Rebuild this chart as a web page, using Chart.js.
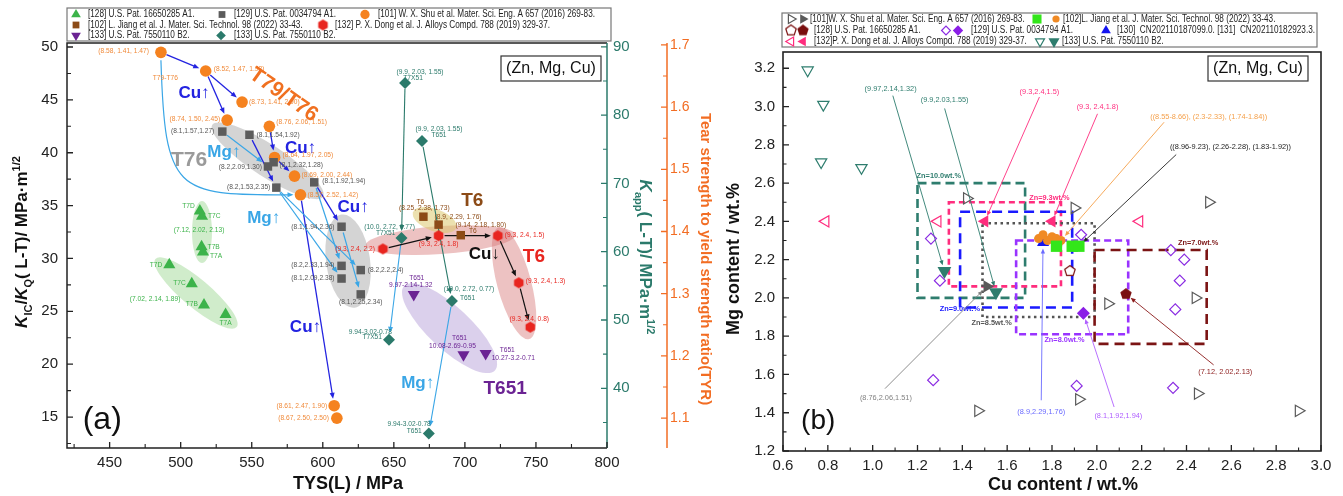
<!DOCTYPE html>
<html>
<head>
<meta charset="utf-8">
<title>TYS vs toughness / Cu-Mg map</title>
<script src="https://cdn.jsdelivr.net/npm/chart.js@4.4.1/dist/chart.umd.min.js"></script>
<style>
  body { margin: 0; background: #fff; }
  #wrap { position: relative; width: 1343px; height: 496px; overflow: hidden; background: #fff; }
  #chartA { position: absolute; left: 0; top: 0; }
  #chartB { position: absolute; left: 718px; top: 0; }
</style>
</head>
<body>
<div id="wrap">
  <canvas id="chartA" width="718" height="496"></canvas>
  <canvas id="chartB" width="625" height="496"></canvas>
</div>
<script>
const FONT = '"Liberation Sans", Arial, Helvetica, sans-serif';
Chart.defaults.font.family = FONT;
Chart.defaults.color = '#222';

// ---------- panel (a) data ----------
const tysTicks = [450, 500, 550, 600, 650, 700, 750, 800];
const kicTicks = [15, 20, 25, 30, 35, 40, 45, 50];
const kappTicks = [40, 50, 60, 70, 80, 90];
const tyrTicks = [1.1, 1.2, 1.3, 1.4, 1.5, 1.6, 1.7];

// [128] U.S. Pat. 16650285 A1.
const tys128 = [513.5, 515.0, 514.7, 515.7, 492.0, 507.8, 516.4, 531.6];
const kic128 = [34.5, 34.0, 31.1, 30.6, 29.4, 27.6, 25.6, 24.7];
const temper128 = ['T7D', 'T7C', 'T7B', 'T7A', 'T7D', 'T7C', 'T7B', 'T7A'];

// [129] U.S. Pat. 0034794 A1.
const tys129 = [529.3, 548.4, 561.4, 565.4, 567.3, 594.0, 613.2, 613.2, 613.2, 626.7, 626.7];
const kic129 = [42.0, 41.7, 38.7, 39.1, 36.7, 37.2, 33.0, 29.3, 28.1, 28.9, 26.6];
const comp129 = ['(8.1,1.57,1.27)', '(8.1,1.54,1.92)', '(8.2,2.09,1.30)', '(8.1,2.32,1.28)', '(8.2,1.53,2.35)',
  '(8.1,1.92,1.94)', '(8.1,1.94,2.36)', '(8.2,2.33,1.94)', '(8.1,2.09,2.38)', '(8.2,2.2,2.4)', '(8.1,2.25,2.34)'];

// [101] W. X. Shu et al. (TYR axis)
const tys101 = [486.1, 517.6, 543.2, 532.7, 562.4, 566.1, 580.1, 584.3, 608.0, 609.9];
const tyr101 = [1.688, 1.658, 1.608, 1.579, 1.569, 1.519, 1.489, 1.459, 1.120, 1.100];
const comp101 = ['(8.58, 1.41, 1.47)', '(8.52, 1.47, 1.92)', '(8.73, 1.41, 2.90)', '(8.74, 1.50, 2.45)', '(8.76, 2.06, 1.51)',
  '(8.64, 1.97, 2.05)', '(8.69, 2.00, 2.44)', '(8.57, 2.52, 1.42)', '(8.61, 2.47, 1.90)', '(8.67, 2.50, 2.50)'];

// [102] L. Jiang et al.
const tys102 = [670.8, 681.5, 697.1];
const kic102 = [33.95, 33.2, 32.2];
const comp102 = ['(8.25, 2.38, 1.73)', '(8.9, 2.29, 1.76)', '(9.14, 2.18, 1.80)'];
const temper102 = ['T6', '', 'T6'];

// [132] P. X. Dong et al.
const tys132 = [642.3, 681.5, 723.2, 737.9, 746.0];
const kic132 = [30.9, 32.15, 32.15, 27.7, 23.5];
const comp132 = ['(9.3, 2.4, 2.2)', '(9.3, 2.4, 1.8)', '(9.3, 2.4, 1.5)', '(9.3, 2.4, 1.3)', '(9.3, 2.4, 0.8)'];

// [133] U.S. Pat. 7550110 B2. (K_IC)
const tys133 = [664.0, 699.0, 714.6];
const kic133 = [26.6, 20.9, 21.0];
const comp133 = ['9.97-2.14-1.32', '10.08-2.69-0.95', '10.27-3.2-0.71'];

// [133] U.S. Pat. 7550110 B2. (K_app axis)
const tys133k = [657.9, 669.8, 655.4, 690.9, 646.6, 674.6];
const kapp133k = [84.7, 76.2, 62.0, 52.8, 47.1, 33.4];
const comp133k = ['(9.9, 2.03, 1.55)', '(9.9, 2.03, 1.55)', '(10.0, 2.72, 0.77)', '(10.0, 2.72, 0.77)', '9.94-3.02-0.78', '9.94-3.02-0.78'];
const temper133k = ['T7X51', 'T651', 'T7X51', 'T651', 'T7X51', 'T651'];

// ---------- panel (b) data ----------
const cuTicks = [0.6, 0.8, 1.0, 1.2, 1.4, 1.6, 1.8, 2.0, 2.2, 2.4, 2.6, 2.8, 3.0];
const mgTicks = [1.2, 1.4, 1.6, 1.8, 2.0, 2.2, 2.4, 2.6, 2.8, 3.0, 3.2];

const cu101o = [1.42, 1.90, 2.50, 2.05, 2.44, 1.92, 2.45, 2.90, 1.47];
const mg101o = [2.52, 2.47, 2.50, 1.97, 2.00, 1.47, 1.50, 1.41, 1.41];
const cu101f = [1.51];
const mg101f = [2.06];
const cu102s = [1.82, 1.89, 1.92];
const mg102s = [2.27, 2.27, 2.27];
const cu102c = [1.74, 1.76, 1.78, 1.80, 1.82, 1.84];
const mg102c = [2.31, 2.33, 2.30, 2.32, 2.31, 2.30];
const cu128o = [1.88];
const mg128o = [2.14];
const cu128f = [2.13];
const mg128f = [2.02];
const cu129o = [1.26, 1.30, 1.93, 2.33, 2.39, 2.37, 2.35, 1.91, 2.34, 1.27];
const mg129o = [2.31, 2.09, 2.33, 2.25, 2.20, 2.09, 1.94, 1.54, 1.53, 1.57];
const cu129f = [1.94];
const mg129f = [1.92];
const cu130 = [1.76];
const mg130 = [2.29];
const cu132o = [0.79, 1.29, 2.19];
const mg132o = [2.40, 2.40, 2.40];
const cu132f = [1.5, 1.8];
const mg132f = [2.4, 2.4];
const cu133o = [0.71, 0.78, 0.77, 0.95];
const mg133o = [3.19, 3.01, 2.71, 2.68];
const cu133f = [1.32, 1.55];
const mg133f = [2.14, 2.03];

// Zn composition windows
const znLabels = ['Zn=10.0wt.%', 'Zn=9.3wt.%', 'Zn=9.0wt.%', 'Zn=8.5wt.%', 'Zn=8.0wt.%', 'Zn=7.0wt.%'];
const znCuLo = [1.20, 1.34, 1.39, 1.49, 1.64, 1.99];
const znCuHi = [1.68, 1.84, 1.89, 1.99, 2.14, 2.49];
const znMgLo = [2.00, 2.06, 1.95, 1.90, 1.81, 1.76];
const znMgHi = [2.60, 2.50, 2.45, 2.39, 2.30, 2.25];

// ---------- colours ----------
const GREEN = '#3cb34a', GREY = '#5c5c5c', ORANGE = '#f5821f', BROWN = '#8c4b17',
  RED = '#e8251f', PURPLE = '#6b2393', TEAL = '#2b7a6b', AX_ORANGE = '#f26d23',
  BLUE = '#2323e0', LBLUE = '#3aa6e6';

// ---------- helpers ----------
function xy(xs, ys) { return xs.map((x, i) => ({ x: x, y: ys[i] })); }

function polyMarker(n, r, fill, stroke, lw) {
  const s = Math.ceil(2 * r + 2 * lw + 2);
  const c = document.createElement('canvas');
  c.width = s; c.height = s;
  const g = c.getContext('2d');
  g.beginPath();
  for (let k = 0; k < n; k++) {
    const a = -Math.PI / 2 + k * 2 * Math.PI / n;
    const x = s / 2 + r * Math.cos(a), y = s / 2 + r * Math.sin(a);
    if (k) g.lineTo(x, y); else g.moveTo(x, y);
  }
  g.closePath();
  if (fill) { g.fillStyle = fill; g.fill(); }
  if (stroke) { g.strokeStyle = stroke; g.lineWidth = lw; g.stroke(); }
  return c;
}

function txt(ctx, s, x, y, o) {
  ctx.save();
  ctx.font = (o.italic ? 'italic ' : '') + (o.bold ? 'bold ' : '') + (o.size || 8) + 'px ' + FONT;
  ctx.fillStyle = o.color || '#222';
  ctx.textAlign = o.align || 'center';
  ctx.textBaseline = 'middle';
  ctx.translate(x, y);
  if (o.rot) ctx.rotate(o.rot * Math.PI / 180);
  if (o.hs) ctx.scale(o.hs, 1);
  ctx.fillText(s, 0, 0);
  ctx.restore();
}

function richTitle(ctx, parts, cx, cy, rotDeg, size, color) {
  ctx.save();
  ctx.translate(cx, cy);
  ctx.rotate(rotDeg * Math.PI / 180);
  ctx.fillStyle = color;
  ctx.textBaseline = 'alphabetic';
  ctx.textAlign = 'left';
  const fonts = parts.map(p => (p.i ? 'italic ' : '') + 'bold ' + ((p.sub || p.sup) ? Math.round(size * 0.62) : size) + 'px ' + FONT);
  const widths = parts.map((p, k) => { ctx.font = fonts[k]; return ctx.measureText(p.t).width; });
  let x = -widths.reduce((a, b) => a + b, 0) / 2;
  const base = size * 0.36;
  parts.forEach((p, k) => {
    ctx.font = fonts[k];
    const dy = p.sub ? size * 0.3 : (p.sup ? -size * 0.42 : 0);
    ctx.fillText(p.t, x, base + dy);
    x += widths[k];
  });
  ctx.restore();
}

function arrowHead(ctx, x, y, ux, uy, h) {
  ctx.beginPath();
  ctx.moveTo(x, y);
  ctx.lineTo(x - ux * h - uy * h * 0.42, y - uy * h + ux * h * 0.42);
  ctx.lineTo(x - ux * h + uy * h * 0.42, y - uy * h - ux * h * 0.42);
  ctx.closePath();
  ctx.fill();
}

function arrowLine(ctx, p, q, color, lw, g0, g1, head) {
  const dx = q.x - p.x, dy = q.y - p.y, L = Math.hypot(dx, dy);
  if (L < 1) return;
  const ux = dx / L, uy = dy / L;
  const x1 = p.x + ux * g0, y1 = p.y + uy * g0;
  const x2 = q.x - ux * g1, y2 = q.y - uy * g1;
  ctx.save();
  ctx.strokeStyle = color; ctx.fillStyle = color; ctx.lineWidth = lw;
  ctx.beginPath(); ctx.moveTo(x1, y1); ctx.lineTo(x2 - ux * head * 0.6, y2 - uy * head * 0.6); ctx.stroke();
  arrowHead(ctx, x2, y2, ux, uy, head);
  ctx.restore();
}

function tickMarks(ctx, scale, values, len, side, color, lw) {
  ctx.save();
  ctx.strokeStyle = color; ctx.lineWidth = lw;
  ctx.beginPath();
  values.forEach(v => {
    if (v < scale.min - 1e-9 || v > scale.max + 1e-9) return;
    const p = scale.getPixelForValue(v);
    if (side === 'bottom') { ctx.moveTo(p, scale.top); ctx.lineTo(p, scale.top - len); }
    else if (side === 'left') { ctx.moveTo(scale.right, p); ctx.lineTo(scale.right + len, p); }
    else { ctx.moveTo(scale.left, p); ctx.lineTo(scale.left - len, p); }
  });
  ctx.stroke();
  ctx.restore();
}

function minorOf(ticks) {
  const st = ticks[1] - ticks[0], out = [];
  for (let i = 0; i <= ticks.length; i++) out.push(+(ticks[0] - st / 2 + i * st).toFixed(4));
  return out;
}

function linAxis(pos, min, max, vals, fit, tickOpts, extra) {
  return Object.assign({
    type: 'linear', position: pos, min: min, max: max,
    afterBuildTicks: s => { s.ticks = vals.map(v => ({ value: v })); },
    afterFit: s => { if (pos === 'bottom') s.height = fit; else s.width = fit; },
    grid: { display: false, drawTicks: false, tickLength: 0 },
    border: { display: false },
    ticks: Object.assign({ autoSkip: false, maxRotation: 0, minRotation: 0, font: { size: 15 }, color: '#222', padding: 6 }, tickOpts)
  }, extra || {});
}

function elPos(chart, d, i) {
  const e = chart.getDatasetMeta(d).data[i];
  return { x: e.x, y: e.y };
}

function legendMark(ctx, d, x, y, k) {
  ctx.save();
  ctx.fillStyle = d.backgroundColor;
  ctx.strokeStyle = d.borderColor;
  ctx.lineWidth = d.borderWidth || 0;
  Chart.helpers.drawPoint(ctx, {
    pointStyle: d.pointStyle, rotation: d.pointRotation || 0,
    radius: d.pointRadius * k, borderWidth: d.borderWidth || 0
  }, x, y);
  ctx.restore();
}

function drawLegend(chart, box, rows, items) {
  const ctx = chart.ctx;
  ctx.save();
  ctx.strokeStyle = '#777'; ctx.lineWidth = 1.2;
  ctx.strokeRect(box[0], box[1], box[2] - box[0], box[3] - box[1]);
  items.forEach(it => {
    const y = rows[it[0]];
    it[1].forEach(m => legendMark(ctx, chart.data.datasets[m[0]], m[1], y, 0.8));
    txt(ctx, it[3], it[2], y, { size: 10, align: 'left', hs: 0.82, color: '#222' });
  });
  ctx.restore();
}

// ---------- panel (a) annotations ----------
const ellipsesA = [
  { x: 561.2, y: 39.24, rx: 66, ry: 16, a: 33, c: 'rgba(160,160,160,0.45)' },
  { x: 617.8, y: 29.75, rx: 22, ry: 47, a: -8, c: 'rgba(160,160,160,0.45)' },
  { x: 515.0, y: 32.5, rx: 10, ry: 31, a: 0, c: 'rgba(170,220,160,0.55)' },
  { x: 510.8, y: 26.73, rx: 53, ry: 14, a: 40, c: 'rgba(170,220,160,0.55)' },
  { x: 682.9, y: 31.74, rx: 75, ry: 14, a: -4, c: 'rgba(215,120,120,0.45)' },
  { x: 734.6, y: 27.67, rx: 58, ry: 17, a: 75, c: 'rgba(215,120,120,0.45)' },
  { x: 678.7, y: 33.63, rx: 23, ry: 11, a: 20, c: 'rgba(220,200,110,0.55)' },
  { x: 689.2, y: 23.41, rx: 62, ry: 21, a: 43, c: 'rgba(190,170,220,0.55)' }
];

// [fromDataset, fromIndex, toDataset, toIndex, colour, width]
const arrowsA = [
  [2, 0, 2, 1, BLUE, 1.3], [2, 1, 2, 2, BLUE, 1.3], [2, 1, 2, 3, BLUE, 1.3],
  [2, 4, 2, 5, BLUE, 1.3], [2, 5, 2, 6, BLUE, 1.3], [1, 1, 1, 4, BLUE, 1.3],
  [1, 5, 1, 6, BLUE, 1.3], [2, 7, 2, 8, BLUE, 1.3],
  [1, 0, 1, 2, LBLUE, 1.2], [1, 4, 1, 8, LBLUE, 1.2], [1, 4, 1, 9, LBLUE, 1.2],
  [1, 5, 1, 7, LBLUE, 1.2], [1, 6, 1, 10, LBLUE, 1.2],
  [6, 0, 6, 2, TEAL, 1.1], [6, 1, 6, 3, TEAL, 1.1],
  [6, 2, 6, 4, LBLUE, 1.1], [6, 3, 6, 5, LBLUE, 1.1],
  [4, 0, 4, 1, '#111', 1.2], [4, 1, 4, 2, '#111', 1.2], [4, 2, 4, 3, '#111', 1.2], [4, 3, 4, 4, '#111', 1.2]
];

// label offsets (px) per point: [dx, dy, align]
const offs129 = [[-8, -1, 'right'], [7, 0, 'left'], [-6, 1, 'right'], [6, 3, 'left'], [-6, -1, 'right'], [8, -1, 'left'],
  [-7, 0, 'right'], [-7, -1, 'right'], [-7, 0, 'right'], [7, 0, 'left'], [0, 8, 'center']];
const offs101 = [[-12, -1, 'right'], [8, -2, 'left'], [7, 0, 'left'], [-7, -1, 'right'], [7, -4, 'left'], [8, -2, 'left'],
  [7, -1, 'left'], [7, 0, 'left'], [-7, 0, 'right'], [-8, 0, 'right']];
const offs128 = [[-5, -5, 'right'], [6, 0, 'left'], [6, 0, 'left'], [7, 4, 'left'], [-7, 0, 'right'], [-6, -1, 'right'],
  [-6, -1, 'right'], [0, 9, 'center']];
const offs102 = [[1, -9, 'center'], [-4, -8, 'left'], [20, -10, 'center']];
const offs102t = [[-3, -15, 'center'], null, [12, -4, 'center']];
const offs132 = [[-8, 0, 'right'], [0, 8, 'center'], [7, -1, 'left'], [7, -2, 'left'], [-1, -8, 'center']];
const offs133 = [[-3, -9, 'center'], [-11, -9, 'center'], [6, 4, 'left']];
const offs133t = [[3, -16, 'center'], [-4, -17, 'center'], [14, -4, 'left']];
const offs133k = [[15, -11, 'center'], [17, -12, 'center'], [-12, -11, 'center'], [17, -12, 'center'], [3, -8, 'right'], [2, -9, 'right']];
const offs133kt = [[8, -5, 'center'], [17, -6, 'center'], [-6, -5, 'right'], [8, -3, 'left'], [-7, -3, 'right'], [-7, -2, 'right']];

const notesA = [
  { t: 'T79/T76', x: 572.4, y: 45.46, c: '#f07020', s: 21, b: true, r: 35 },
  { t: 'T79-T76', x: 489.2, y: 47.07, c: '#f08a3a', s: 7 },
  { t: 'T76', x: 505.9, y: 39.3, c: '#9a9a9a', s: 21, b: true },
  { t: 'Cu↑', x: 509.4, y: 45.65, c: BLUE, s: 17, b: true },
  { t: 'Mg↑', x: 530.4, y: 40.07, c: LBLUE, s: 17, b: true },
  { t: 'Cu↑', x: 584.3, y: 40.44, c: BLUE, s: 17, b: true },
  { t: 'Mg↑', x: 558.4, y: 33.82, c: LBLUE, s: 17, b: true },
  { t: 'Cu↑', x: 621.3, y: 34.86, c: BLUE, s: 17, b: true },
  { t: 'Cu↑', x: 587.8, y: 23.5, c: BLUE, s: 17, b: true },
  { t: 'T6', x: 705.2, y: 35.5, c: BROWN, s: 19, b: true },
  { t: 'Cu↓', x: 713.6, y: 30.4, c: '#111', s: 17, b: true },
  { t: 'T6', x: 748.6, y: 30.2, c: RED, s: 19, b: true },
  { t: 'Mg↑', x: 666.8, y: 18.2, c: LBLUE, s: 17, b: true },
  { t: 'T651', x: 728.3, y: 17.7, c: PURPLE, s: 19, b: true },
  { t: '(7.12, 2.02, 2.13)', x: 512.9, y: 32.7, c: GREEN, s: 7 },
  { t: '(7.02, 2.14, 1.89)', x: 482.0, y: 26.2, c: GREEN, s: 7 },
  { t: '(a)', x: 444.8, y: 14.7, c: '#111', s: 32 }
];

function pointText(chart, d, texts, offs, color) {
  const els = chart.getDatasetMeta(d).data;
  texts.forEach((t, i) => {
    const o = offs[i];
    if (!t || !o) return;
    txt(chart.ctx, t, els[i].x + o[0], els[i].y + o[1], { size: 7, color: color, align: o[2], hs: 0.95 });
  });
}

const panelA = {
  id: 'panelA',
  beforeDatasetsDraw(chart) {
    const ctx = chart.ctx, sx = chart.scales.x, sy = chart.scales.y, ca = chart.chartArea;
    ctx.save();
    ctx.beginPath(); ctx.rect(ca.left, ca.top, ca.width, ca.height); ctx.clip();
    ellipsesA.forEach(e => {
      ctx.save();
      ctx.translate(sx.getPixelForValue(e.x), sy.getPixelForValue(e.y));
      ctx.rotate(e.a * Math.PI / 180);
      ctx.beginPath(); ctx.ellipse(0, 0, e.rx, e.ry, 0, 0, 2 * Math.PI);
      ctx.fillStyle = e.c; ctx.fill();
      ctx.restore();
    });
    // curved Mg arrow from the T79 point down to the T76 point
    const p = elPos(chart, 2, 0), q = elPos(chart, 2, 7);
    ctx.strokeStyle = LBLUE; ctx.fillStyle = LBLUE; ctx.lineWidth = 1.2;
    ctx.beginPath();
    ctx.moveTo(p.x, p.y + 8);
    ctx.bezierCurveTo(p.x + 4, q.y - 3, p.x + 14, q.y + 1, q.x - 12, q.y);
    ctx.stroke();
    arrowHead(ctx, q.x - 7, q.y, 1, 0, 6);
    arrowsA.forEach(a => {
      arrowLine(ctx, elPos(chart, a[0], a[1]), elPos(chart, a[2], a[3]), a[4], a[5], 6, 7, 6);
    });
    ctx.restore();
  },
  afterDatasetsDraw(chart) {
    const ctx = chart.ctx, sx = chart.scales.x, sy = chart.scales.y;
    pointText(chart, 0, temper128, offs128, GREEN);
    pointText(chart, 1, comp129, offs129, '#555');
    pointText(chart, 2, comp101, offs101, '#f08a3a');
    pointText(chart, 3, comp102, offs102, BROWN);
    pointText(chart, 3, temper102, offs102t, BROWN);
    pointText(chart, 4, comp132, offs132, RED);
    pointText(chart, 5, comp133, offs133, PURPLE);
    pointText(chart, 5, ['T651', 'T651', 'T651'], offs133t, PURPLE);
    pointText(chart, 6, comp133k, offs133k, TEAL);
    pointText(chart, 6, temper133k, offs133kt, TEAL);
    notesA.forEach(n => txt(ctx, n.t, sx.getPixelForValue(n.x), sy.getPixelForValue(n.y),
      { size: n.s, color: n.c, bold: n.b, rot: n.r || 0, hs: n.s < 10 ? 0.95 : 0 }));
  },
  afterDraw(chart) {
    const ctx = chart.ctx, ca = chart.chartArea, S = chart.scales;
    // frame
    ctx.save();
    ctx.lineWidth = 1.5; ctx.strokeStyle = '#222';
    ctx.beginPath();
    ctx.moveTo(ca.right, ca.top); ctx.lineTo(ca.left, ca.top); ctx.lineTo(ca.left, ca.bottom); ctx.lineTo(ca.right, ca.bottom);
    ctx.stroke();
    ctx.strokeStyle = TEAL;
    ctx.beginPath(); ctx.moveTo(ca.right, ca.top); ctx.lineTo(ca.right, ca.bottom); ctx.stroke();
    ctx.strokeStyle = AX_ORANGE;
    ctx.beginPath(); ctx.moveTo(S.yt.left, ca.top); ctx.lineTo(S.yt.left, ca.bottom); ctx.stroke();
    ctx.restore();
    tickMarks(ctx, S.x, tysTicks, 6, 'bottom', '#222', 1.3);
    tickMarks(ctx, S.x, minorOf(tysTicks), 4, 'bottom', '#222', 1.1);
    tickMarks(ctx, S.y, kicTicks, 6, 'left', '#222', 1.3);
    tickMarks(ctx, S.y, minorOf(kicTicks), 4, 'left', '#222', 1.1);
    tickMarks(ctx, S.yk, kappTicks, 6, 'right', TEAL, 1.3);
    tickMarks(ctx, S.yk, minorOf(kappTicks), 4, 'right', TEAL, 1.1);
    tickMarks(ctx, S.yt, tyrTicks, 6, 'right', AX_ORANGE, 1.3);
    tickMarks(ctx, S.yt, minorOf(tyrTicks), 4, 'right', AX_ORANGE, 1.1);
    // axis titles
    richTitle(ctx, [{ t: 'K', i: true }, { t: 'IC', sub: true }, { t: '/' }, { t: 'K', i: true }, { t: 'Q', sub: true },
      { t: '( L-T)/ MPa·m' }, { t: '1/2', sup: true }], 21, 242, -90, 17, '#111');
    richTitle(ctx, [{ t: 'K', i: true }, { t: 'app', sub: true }, { t: '( L-T)/ MPa·m' }, { t: '1/2', sup: true }],
      646, 257, 90, 17, TEAL);
    txt(ctx, 'Tear strength to yield strength ratio(TYR)', 705, 259, { size: 15, bold: true, color: AX_ORANGE, rot: 90 });
    txt(ctx, 'TYS(L) / MPa', 348, 484, { size: 18, bold: true, color: '#111' });
    // composition box
    ctx.save();
    ctx.strokeStyle = '#333'; ctx.lineWidth = 1.2;
    ctx.strokeRect(ca.right - 106, ca.top + 13, 100, 25);
    ctx.restore();
    txt(ctx, '(Zn, Mg, Cu)', ca.right - 56, ca.top + 26, { size: 16, color: '#111' });
    drawLegend(chart, [67, 8, 611, 41], [14.5, 25, 35.5], [
      [0, [[0, 76]], 88, '[128] U.S. Pat. 16650285 A1.'],
      [0, [[1, 222]], 234, '[129] U.S. Pat. 0034794 A1.'],
      [0, [[2, 365]], 378, '[101] W. X. Shu et al. Mater. Sci. Eng. A 657 (2016) 269-83.'],
      [1, [[3, 76]], 88, '[102] L. Jiang et al. J. Mater. Sci. Technol. 98 (2022) 33-43.'],
      [1, [[4, 323]], 335, '[132] P. X. Dong et al. J. Alloys Compd. 788 (2019) 329-37.'],
      [2, [[5, 76]], 88, '[133] U.S. Pat. 7550110 B2.'],
      [2, [[6, 221]], 234, '[133] U.S. Pat. 7550110 B2.']
    ]);
  }
};

const hexRed = polyMarker(6, 5.5, RED, null, 0);

new Chart(document.getElementById('chartA'), {
  type: 'scatter',
  data: {
    datasets: [
      { label: '[128] U.S. Pat. 16650285 A1.', data: xy(tys128, kic128), yAxisID: 'y',
        pointStyle: 'triangle', pointRadius: 7, backgroundColor: GREEN, borderColor: GREEN, borderWidth: 0 },
      { label: '[129] U.S. Pat. 0034794 A1.', data: xy(tys129, kic129), yAxisID: 'y',
        pointStyle: 'rect', pointRadius: 6, backgroundColor: GREY, borderColor: GREY, borderWidth: 0 },
      { label: '[101] W. X. Shu et al.', data: xy(tys101, tyr101), yAxisID: 'yt',
        pointStyle: 'circle', pointRadius: 5.8, backgroundColor: ORANGE, borderColor: ORANGE, borderWidth: 0 },
      { label: '[102] L. Jiang et al.', data: xy(tys102, kic102), yAxisID: 'y',
        pointStyle: 'rect', pointRadius: 6, backgroundColor: BROWN, borderColor: BROWN, borderWidth: 0 },
      { label: '[132] P. X. Dong et al.', data: xy(tys132, kic132), yAxisID: 'y',
        pointStyle: hexRed, pointRadius: 6, backgroundColor: RED, borderColor: RED, borderWidth: 0 },
      { label: '[133] U.S. Pat. 7550110 B2.', data: xy(tys133, kic133), yAxisID: 'y',
        pointStyle: 'triangle', pointRotation: 180, pointRadius: 7, backgroundColor: PURPLE, borderColor: PURPLE, borderWidth: 0 },
      { label: '[133] U.S. Pat. 7550110 B2. (Kapp)', data: xy(tys133k, kapp133k), yAxisID: 'yk',
        pointStyle: 'rectRot', pointRadius: 6, backgroundColor: TEAL, borderColor: TEAL, borderWidth: 0 }
    ]
  },
  options: {
    responsive: false, animation: false, events: [],
    layout: { padding: { left: 0, right: 1, top: 43, bottom: 0 } },
    plugins: { legend: { display: false }, tooltip: { enabled: false } },
    scales: {
      x: linAxis('bottom', 420, 800, tysTicks, 48, { padding: 6, callback: v => String(v) }),
      y: linAxis('left', 12.07, 50.38, kicTicks, 67, { padding: 9, callback: v => String(v) }),
      yk: linAxis('right', 31.26, 90.56, kappTicks, 60, { padding: 6, color: TEAL, callback: v => String(v) }, { weight: 0 }),
      yt: linAxis('right', 1.052, 1.703, tyrTicks, 50, { padding: 3, color: AX_ORANGE, font: { size: 14 }, callback: v => v.toFixed(1) }, { weight: 1 })
    }
  },
  plugins: [panelA]
});

// ---------- panel (b) annotations ----------
const znStyle = [
  { c: '#2e7d6e', dash: [9, 5], lab: [1.196, 2.637, 'left'] },
  { c: '#ff2d7e', dash: [6, 4], lab: [1.788, 2.525, 'center'] },
  { c: '#1a1aff', dash: [10, 6], lab: [1.299, 1.942, 'left'] },
  { c: '#555555', dash: [2.5, 3.5], lab: [1.441, 1.869, 'left'] },
  { c: '#9933ff', dash: [7, 4], lab: [1.766, 1.780, 'left'] },
  { c: '#7b1414', dash: [10, 6], lab: [2.362, 2.288, 'left'] }
];

// label text, label anchor, line start, target [dataset, index]
const notesB = [
  { t: '(9.97,2.14,1.32)', at: [1.08, 3.094], from: [1.09, 3.057], to: [11, 0], c: '#2e7d6e' },
  { t: '(9.9,2.03,1.55)', at: [1.321, 3.037], from: [1.321, 2.99], to: [11, 1], c: '#2e7d6e' },
  { t: '(9.3,2.4,1.5)', at: [1.744, 3.078], from: [1.744, 3.05], to: [9, 0], c: '#ff2d7e' },
  { t: '(9.3, 2.4,1.8)', at: [2.003, 3.0], from: [2.003, 2.962], to: [9, 1], c: '#ff2d7e' },
  { t: '((8.55-8.66), (2.3-2.33), (1.74-1.84))', at: [2.499, 2.949], from: [2.30, 2.918], to: [6, 5], c: '#f5a04a' },
  { t: '((8.96-9.23), (2.26-2.28), (1.83-1.92))', at: [2.596, 2.788], from: [2.354, 2.749], to: [5, 2], c: '#222' },
  { t: '(8.76,2.06,1.51)', at: [1.059, 1.479], from: [1.055, 1.526], to: [8, 0], c: '#808080' },
  { t: '(8.9,2.29,1.76)', at: [1.752, 1.404], from: [1.752, 1.465], to: [7, 0], c: '#6a6aff' },
  { t: '(8.1,1.92,1.94)', at: [2.096, 1.386], from: [2.077, 1.43], to: [10, 0], c: '#b060ff' },
  { t: '(7.12, 2.02,2.13)', at: [2.573, 1.613], from: [2.521, 1.65], to: [12, 0], c: '#8b1a1a' }
];

const panelB = {
  id: 'panelB',
  beforeDatasetsDraw(chart) {
    const ctx = chart.ctx, sx = chart.scales.x, sy = chart.scales.y;
    znLabels.forEach((lab, i) => {
      const st = znStyle[i];
      const x0 = sx.getPixelForValue(znCuLo[i]), x1 = sx.getPixelForValue(znCuHi[i]);
      const y0 = sy.getPixelForValue(znMgHi[i]), y1 = sy.getPixelForValue(znMgLo[i]);
      ctx.save();
      ctx.strokeStyle = st.c; ctx.lineWidth = 2.6; ctx.setLineDash(st.dash);
      ctx.strokeRect(x0, y0, x1 - x0, y1 - y0);
      ctx.restore();
      txt(ctx, lab, sx.getPixelForValue(st.lab[0]), sy.getPixelForValue(st.lab[1]),
        { size: 8, bold: true, color: st.c, align: st.lab[2], hs: 0.92 });
    });
    notesB.forEach(n => {
      const p = { x: sx.getPixelForValue(n.from[0]), y: sy.getPixelForValue(n.from[1]) };
      const q = elPos(chart, n.to[0], n.to[1]);
      arrowLine(ctx, p, q, n.c, 0.9, 0, 6, 5);
    });
  },
  afterDatasetsDraw(chart) {
    const ctx = chart.ctx, sx = chart.scales.x, sy = chart.scales.y;
    notesB.forEach(n => txt(ctx, n.t, sx.getPixelForValue(n.at[0]), sy.getPixelForValue(n.at[1]),
      { size: 8, color: n.c, hs: 0.92 }));
    txt(ctx, '(b)', sx.getPixelForValue(0.757), sy.getPixelForValue(1.357), { size: 28, color: '#111' });
  },
  afterDraw(chart) {
    const ctx = chart.ctx, ca = chart.chartArea, S = chart.scales;
    ctx.save();
    ctx.lineWidth = 1.6; ctx.strokeStyle = '#222';
    ctx.strokeRect(ca.left, ca.top, ca.width, ca.height);
    ctx.restore();
    tickMarks(ctx, S.x, cuTicks, 6, 'bottom', '#222', 1.3);
    tickMarks(ctx, S.x, minorOf(cuTicks), 3.5, 'bottom', '#222', 1.1);
    tickMarks(ctx, S.y, mgTicks, 6, 'left', '#222', 1.3);
    tickMarks(ctx, S.y, minorOf(mgTicks), 3.5, 'left', '#222', 1.1);
    txt(ctx, 'Mg content / wt.%', 16, 259, { size: 18, bold: true, color: '#111', rot: -90 });
    txt(ctx, 'Cu content / wt.%', 345, 485, { size: 18, bold: true, color: '#111' });
    ctx.save();
    ctx.strokeStyle = '#333'; ctx.lineWidth = 1.2;
    ctx.strokeRect(ca.right - 113, ca.top + 4, 100, 25);
    ctx.restore();
    txt(ctx, '(Zn, Mg, Cu)', ca.right - 63, ca.top + 17, { size: 16, color: '#111' });
    drawLegend(chart, [64, 13, 599, 47], [19, 30.5, 41.5], [
      [0, [[0, 73], [8, 85]], 92, '[101]W. X. Shu et al. Mater. Sci. Eng. A 657 (2016) 269-83.'],
      [0, [[5, 319], [6, 338]], 345, '[102]L. Jiang et al. J. Mater. Sci. Technol. 98 (2022) 33-43.'],
      [1, [[4, 73], [12, 85]], 96, '[128] U.S. Pat. 16650285 A1.'],
      [1, [[2, 228], [10, 240]], 253, '[129] U.S. Pat. 0034794 A1.'],
      [1, [[7, 388]], 399, '[130]  CN202110187099.0. [131]  CN202110182923.3.'],
      [2, [[1, 73], [9, 85]], 96, '[132]P. X. Dong et al. J. Alloys Compd. 788 (2019) 329-37.'],
      [2, [[3, 322], [11, 336]], 344, '[133] U.S. Pat. 7550110 B2.']
    ]);
  }
};

const G101 = '#5a5a5a', C102S = '#33e61a', C102C = '#f08a24', C128 = '#7a0f0f', C129 = '#8a2be2',
  C130 = '#1414f0', C132 = '#ff2d7e', C133 = '#2e7d6e';
const pentOpen = polyMarker(5, 5.5, '#fff', C128, 1.2);
const pentFill = polyMarker(5, 6, C128, null, 0);
const NONE = 'rgba(255,255,255,0)';

new Chart(document.getElementById('chartB'), {
  type: 'scatter',
  data: {
    datasets: [
      { label: '[101] open', data: xy(cu101o, mg101o), pointStyle: 'triangle', pointRotation: 90, pointRadius: 6.5,
        backgroundColor: NONE, borderColor: G101, borderWidth: 1.2 },
      { label: '[132] open', data: xy(cu132o, mg132o), pointStyle: 'triangle', pointRotation: -90, pointRadius: 6.5,
        backgroundColor: NONE, borderColor: C132, borderWidth: 1.2 },
      { label: '[129] open', data: xy(cu129o, mg129o), pointStyle: 'rectRot', pointRadius: 5.5,
        backgroundColor: NONE, borderColor: C129, borderWidth: 1.2 },
      { label: '[133] open', data: xy(cu133o, mg133o), pointStyle: 'triangle', pointRotation: 180, pointRadius: 6.5,
        backgroundColor: NONE, borderColor: C133, borderWidth: 1.2 },
      { label: '[128] open', data: xy(cu128o, mg128o), pointStyle: pentOpen, pointRadius: 6,
        backgroundColor: NONE, borderColor: C128, borderWidth: 1.2 },
      { label: '[102] squares', data: xy(cu102s, mg102s), pointStyle: 'rect', pointRadius: 8,
        backgroundColor: C102S, borderColor: C102S, borderWidth: 0 },
      { label: '[102] circles', data: xy(cu102c, mg102c), pointStyle: 'circle', pointRadius: 4.5,
        backgroundColor: C102C, borderColor: C102C, borderWidth: 0 },
      { label: '[130] [131]', data: xy(cu130, mg130), pointStyle: 'triangle', pointRadius: 7,
        backgroundColor: C130, borderColor: C130, borderWidth: 0 },
      { label: '[101] filled', data: xy(cu101f, mg101f), pointStyle: 'triangle', pointRotation: 90, pointRadius: 7,
        backgroundColor: G101, borderColor: G101, borderWidth: 0 },
      { label: '[132] filled', data: xy(cu132f, mg132f), pointStyle: 'triangle', pointRotation: -90, pointRadius: 7,
        backgroundColor: C132, borderColor: C132, borderWidth: 0 },
      { label: '[129] filled', data: xy(cu129f, mg129f), pointStyle: 'rectRot', pointRadius: 6.5,
        backgroundColor: '#8a1ee6', borderColor: '#8a1ee6', borderWidth: 0 },
      { label: '[133] filled', data: xy(cu133f, mg133f), pointStyle: 'triangle', pointRotation: 180, pointRadius: 8,
        backgroundColor: C133, borderColor: C133, borderWidth: 0 },
      { label: '[128] filled', data: xy(cu128f, mg128f), pointStyle: pentFill, pointRadius: 6,
        backgroundColor: C128, borderColor: C128, borderWidth: 0 }
    ]
  },
  options: {
    responsive: false, animation: false, events: [],
    layout: { padding: { left: 0, right: 22, top: 52, bottom: 0 } },
    plugins: { legend: { display: false }, tooltip: { enabled: false } },
    scales: {
      x: linAxis('bottom', 0.6, 3.0, cuTicks, 45, { padding: 6, callback: v => v.toFixed(1) }),
      y: linAxis('left', 1.2, 3.285, mgTicks, 65, { padding: 8, callback: v => v.toFixed(1) })
    }
  },
  plugins: [panelB]
});
</script>
</body>
</html>
